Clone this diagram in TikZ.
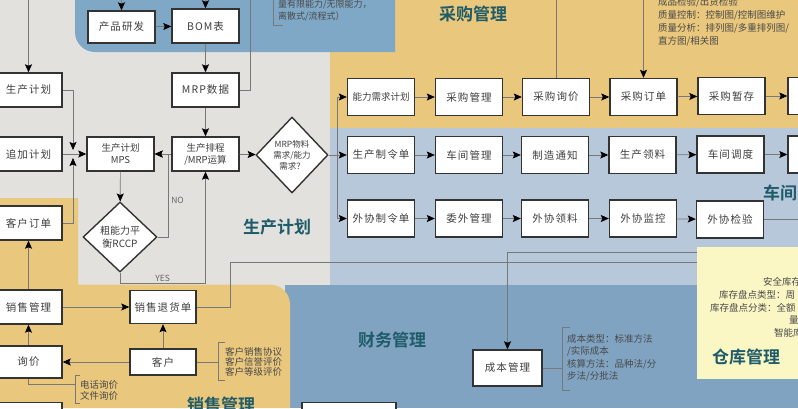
\documentclass[tikz,border=0pt]{standalone}
\usepackage{fontspec}
\setmainfont{Noto Sans CJK SC}[BoldFont={Noto Sans CJK SC Bold}]
\newfontfamily\spacedfont{Noto Sans CJK SC}[LetterSpace=10]
\usetikzlibrary{arrows.meta,shapes.geometric,positioning}
\definecolor{bggray}{HTML}{E2E1DE}
\definecolor{topblue}{HTML}{7FA7C6}
\definecolor{finblue}{HTML}{7FA3C1}
\definecolor{shopblue}{HTML}{B8C8DB}
\definecolor{sandyellow}{HTML}{E9C77C}
\definecolor{paleyellow}{HTML}{FBF7C5}
\definecolor{titleteal}{HTML}{1F5B68}
\definecolor{boxtext}{HTML}{3F3F3F}
\definecolor{notetext}{HTML}{4A4A4A}
\definecolor{wiregray}{HTML}{787878}

\begin{document}
\begin{tikzpicture}[x=1pt, y=-1pt,
        boxnode/.style={rectangle, draw=black!80, line width=1.4pt, fill=white,
            minimum width=67pt, minimum height=37pt, inner sep=1pt, align=center,
            text=boxtext, font=\spacedfont\fontsize{10.5}{12.5}\selectfont},
        gatenode/.style={diamond, draw=black!80, line width=1.4pt, fill=white,
            aspect=1, inner sep=0pt, align=center, text=boxtext},
        wireline/.style={draw=wiregray, line width=0.7pt},
        arrowline/.style={wireline, -{Stealth[length=8pt, width=7pt, inset=1.5pt, black]}},
        notenode/.style={align=left, text=notetext, inner sep=0pt,
            font=\fontsize{9.5}{12.5}\selectfont},
        tagnode/.style={text=black!60, inner sep=1pt, font=\fontsize{8.5}{10}\selectfont},
        areatitle/.style={text=titleteal, inner sep=0pt, font=\fontsize{17}{20}\selectfont\bfseries}]
    \useasboundingbox (0, 0) rectangle (798, 408);
    \clip (0, 0) rectangle (798, 408);

    \fill [bggray] (0, 0) rectangle (798, 408);
    \fill [sandyellow] (330, 0) rectangle (798, 128);
    \fill [shopblue] (330, 128) rectangle (798, 285);
    \fill [finblue] (285, 285) rectangle (798, 408);
    \fill [sandyellow] (0, 198) -- (78, 198) -- (78, 284.5) -- (270, 284.5)
        arc [start angle=-90, end angle=0, radius=20] -- (290, 408) -- (0, 408) -- cycle;
    \fill [topblue] (75, 0) -- (75, 32) arc [start angle=180, end angle=90, radius=20]
        -- (395, 52) -- (395, 0) -- cycle;

    \node (pdev) at (121.5, 27) [boxnode, minimum height=32pt] {产品研发};
    \node (bom) at (205.5, 26) [boxnode, minimum height=34pt] {BOM表};
    \node (mrpdata) at (205.5, 90) [boxnode, minimum height=34pt] {MRP数据};
    \node (sched) at (205.5, 154) [boxnode, minimum height=34pt,
        font=\fontsize{9.5}{12}\selectfont] {生产排程\\/MRP运算};
    \node (mps) at (120.5, 154) [boxnode, minimum height=34pt,
        font=\fontsize{9.5}{12}\selectfont] {生产计划\\MPS};
    \node (rccp) at (120, 237) [gatenode, minimum width=74pt, minimum height=70pt,
        font=\fontsize{10}{12.5}\selectfont] {粗能力平\\衡RCCP};
    \node (mrpneed) at (292, 155) [gatenode, minimum width=72pt, minimum height=76pt,
        font=\fontsize{8.5}{11}\selectfont] {MRP物料\\需求/能力\\需求？};

    \node (plan) at (28.5, 90) [boxnode, minimum height=34pt] {生产计划};
    \node (addplan) at (28.5, 154) [boxnode, minimum height=34pt] {追加计划};
    \node (order) at (28.5, 223) [boxnode, minimum height=34pt] {客户订单};
    \node (sales) at (28.5, 307) [boxnode, minimum height=34pt] {销售管理};
    \node (inquiry) at (28.5, 362) [boxnode, minimum height=32pt] {询价};
    \node (lowbox) at (28.5, 421) [boxnode] {};
    \node (goodsret) at (163, 307) [boxnode, minimum width=66pt, minimum height=33pt] {销售退货单};
    \node (client) at (163, 362) [boxnode, minimum width=66pt, minimum height=26pt] {客户};

    \node (cap) at (381, 97) [boxnode, font=\fontsize{9.5}{12}\selectfont] {能力需求计划};
    \node (pmgmt) at (469, 97) [boxnode] {采购管理};
    \node (pinq) at (556, 97) [boxnode] {采购询价};
    \node (porder) at (643.5, 97) [boxnode] {采购订单};
    \node (ptemp) at (731.5, 96) [boxnode] {采购暂存};
    \node (pnext) at (821.5, 96) [boxnode] {};

    \node (wo) at (381, 155) [boxnode] {生产制令单};
    \node (shop) at (469, 155) [boxnode] {车间管理};
    \node (notice) at (555, 155) [boxnode] {制造通知};
    \node (pick) at (642.5, 155) [boxnode] {生产领料};
    \node (disp) at (730.5, 154.5) [boxnode] {车间调度};
    \node (wnext) at (821.5, 154.5) [boxnode] {};

    \node (oo) at (381, 218.5) [boxnode] {外协制令单};
    \node (omgmt) at (469, 218.5) [boxnode] {委外管理};
    \node (opick) at (555, 218.5) [boxnode] {外协领料};
    \node (omon) at (643, 218.5) [boxnode] {外协监控};
    \node (ocheck) at (730, 219.5) [boxnode] {外协检验};

    \node (cost) at (507.5, 368) [boxnode, minimum width=69pt, minimum height=36pt] {成本管理};
    \node (finbox) at (349, 421) [boxnode, minimum width=94pt] {};

    \draw [arrowline] (28.5, -2) -- (plan);
    \draw [arrowline] (121.5, -2) -- (pdev);
    \draw [arrowline] (205.5, -2) -- (bom);
    \draw [arrowline] (pdev) -- (bom);
    \draw [arrowline] (bom) -- (mrpdata);
    \draw [arrowline] (mrpdata) -- (sched);
    \draw [wireline] (250, -2) |- (mrpdata);
    \draw [wireline] (273, -2) -- (273, 25) -- (283, 25);

    \draw [arrowline] (plan) -| (73, 150);
    \draw [arrowline] (order) -| (73, 158);
    \draw [arrowline] (addplan) -- (mps);
    \draw [arrowline] (mps) -- (rccp);
    \draw [arrowline] (sched) -- (mps);
    \draw [arrowline] (rccp) -| (168, 154) node [pos=0.72, right=2pt, tagnode] {NO} -- (mps);
    \draw [arrowline] (rccp) |- (205.5, 283) node [pos=0.75, above=0pt, tagnode] {YES} -- (sched);
    \draw [arrowline] (sched) -- (mrpneed);

    \coordinate (fork) at (337, 155);
    \draw [wireline] (mrpneed) -- (fork);
    \draw [arrowline] (fork) |- (cap);
    \draw [arrowline] (fork) -- (wo);
    \draw [arrowline] (fork) |- (oo);

    \draw [arrowline] (cap) -- (pmgmt);
    \draw [arrowline] (pmgmt) -- (pinq);
    \draw [arrowline] (pinq) -- (porder);
    \draw [arrowline] (porder) -- (ptemp);
    \draw [arrowline] (ptemp) -- (pnext);
    \draw [wireline] (556, -2) -- (pinq);
    \draw [arrowline] (643.5, -2) -- (porder);

    \draw [arrowline] (wo) -- (shop);
    \draw [arrowline] (shop) -- (notice);
    \draw [arrowline] (notice) -- (pick);
    \draw [arrowline] (pick) -- (disp);
    \draw [arrowline] (disp) -- (wnext);

    \draw [arrowline] (oo) -- (omgmt);
    \draw [arrowline] (omgmt) -- (opick);
    \draw [arrowline] (opick) -- (omon);
    \draw [arrowline] (omon) -- (ocheck);
    \draw [wireline] (ocheck) -- (805, 219.5);

    \draw [wireline] (goodsret) -| (230, 262) -- (805, 262);
    \draw [arrowline] (805, 252) -| (cost);
    \draw [wireline] (cost) -- (562, 368);
    \draw [wireline] (570, 327) -- (562, 327) -- (562, 390) -- (570, 390);

    \draw [arrowline] (sales) -- (order);
    \draw [arrowline] (sales) -- (goodsret);
    \draw [arrowline] (client) -- (goodsret);
    \draw [arrowline] (client) -- (inquiry);
    \draw [arrowline] (inquiry) -- (sales);
    \draw [wireline] (inquiry) |- (75, 384);
    \draw [wireline] (80, 375) -- (75, 375) -- (75, 403) -- (80, 403);
    \draw [wireline] (client) -- (218, 362);
    \draw [wireline] (225, 342) -- (218, 342) -- (218, 380) -- (225, 380);

    \fill [paleyellow] (697, 247) rectangle (798, 379);

    \node (capnote) at (278, 11) [notenode, anchor=west, font=\fontsize{9}{12}\selectfont]
        {量有限能力/无限能力，\\离散式/流程式）};
    \node (qcnote) at (658, 21.5) [notenode, anchor=west, font=\fontsize{9.5}{13}\selectfont]
        {成品检验/出货检验\\质量控制：控制图/控制图维护\\质量分析：排列图/多重排列图/\\直方图/相关图};
    \node (costnote) at (567, 358) [notenode, anchor=west]
        {成本类型：标准方法\\/实际成本\\核算方法：品种法/分\\步法/分批法};
    \node (clientnote) at (225, 362) [notenode, anchor=west, font=\fontsize{9.5}{10}\selectfont]
        {客户销售协议\\客户信誉评价\\客户等级评价};
    \node (inqnote) at (80, 390.5) [notenode, anchor=west, font=\fontsize{9.5}{11}\selectfont]
        {电话询价\\文件询价};
    \node (stocknote1) at (763, 282) [notenode, anchor=west] {安全库存};
    \node (stocknote2) at (719, 294.5) [notenode, anchor=west] {库存盘点类型：周};
    \node (stocknote3) at (710, 307.5) [notenode, anchor=west] {库存盘点分类：全额};
    \node (stocknote4) at (789, 320) [notenode, anchor=west] {量};
    \node (stocknote5) at (774, 332.5) [notenode, anchor=west] {智能库};

    \node (purtitle) at (473, 14) [areatitle] {采购管理};
    \node (plantitle) at (277, 227) [areatitle] {生产计划};
    \node (shoptitle) at (763, 193) [areatitle, anchor=west] {车间};
    \node (fintitle) at (392, 340) [areatitle] {财务管理};
    \node (salestitle) at (221, 405) [areatitle] {销售管理};
    \node (stocktitle) at (746, 357) [areatitle] {仓库管理};
\end{tikzpicture}
\end{document}
